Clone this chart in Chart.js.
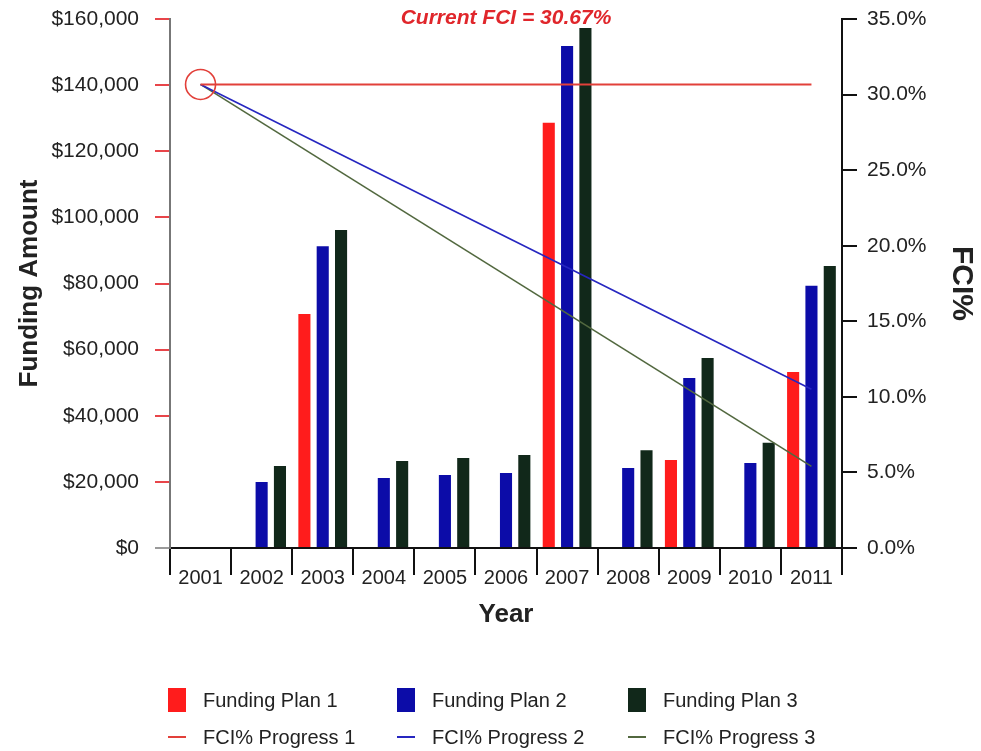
<!DOCTYPE html>
<html>
<head>
<meta charset="utf-8">
<script src="https://cdn.jsdelivr.net/npm/chart.js@4.4.1/dist/chart.umd.min.js"></script>
<style>
  html, body { margin: 0; padding: 0; background: #fff; }
  #wrap { position: relative; width: 981px; height: 751px; }
  #legend { position: absolute; left: 0; top: 0; width: 981px; height: 751px; pointer-events: none;
            font-family: "Liberation Sans", Arial, sans-serif; font-size: 20px; color: #222; }
  .item { position: absolute; display: flex; align-items: center; height: 26px; white-space: nowrap; transform: translateY(-13px); }
  .sw { display: inline-block; width: 18px; height: 24px; margin-right: 17px; }
  .ln { display: inline-block; width: 18px; height: 2px; margin-right: 17px; }
</style>
</head>
<body>
<div id="wrap">
  <canvas id="c" width="981" height="751"></canvas>
  <div id="legend"></div>
</div>
<script>
// Categories
const years = ['2001', '2002', '2003', '2004', '2005', '2006', '2007', '2008', '2009', '2010', '2011'];

// Funding amounts per plan (USD)
const plan1 = [null, null, 70800, null, null, null, 128600, null, 26600, null, 53200];
const plan2 = [null, 20000, 91300, 21200, 22100, 22700, 151800, 24200, 51400, 25700, 79300];
const plan3 = [null, 24800, 96200, 26300, 27200, 28100, 157300, 29600, 57500, 31800, 85300];

// FCI% progress lines (start and end of each plan)
const currentFci = 30.67;
const progress1 = [currentFci, null, null, null, null, null, null, null, null, null, 30.67];
const progress2 = [currentFci, null, null, null, null, null, null, null, null, null, 10.5];
const progress3 = [currentFci, null, null, null, null, null, null, null, null, null, 5.4];

// Axis settings
const fundingMax = 160000, fundingStep = 20000;
const fciMax = 35, fciStep = 5;

const FONT = '"Liberation Sans", Arial, Helvetica, sans-serif';
const TEXT = '#222';

const colors = {
  plan1: '#ff1c1c', plan2: '#0c0ca8', plan3: '#11281a',
  prog1: '#e2403a', prog2: '#2626c0', prog3: '#52683f'
};

// Red "Current FCI" note above the plot
const fciNote = {
  id: 'fciNote',
  afterDraw(chart) {
    const { ctx, chartArea } = chart;
    ctx.save();
    ctx.font = 'italic bold 21px ' + FONT;
    ctx.fillStyle = '#e0262b';
    ctx.textAlign = 'center';
    ctx.textBaseline = 'middle';
    ctx.fillText('Current FCI = ' + currentFci.toFixed(2) + '%', (chartArea.left + chartArea.right) / 2, chartArea.top - 1);
    ctx.restore();
  }
};

// Fixed scale sizes so the plot area sits at a known place
const fixSize = (w, h) => s => {
  if (w != null) s.width = w;
  if (h != null) s.height = h;
  s.paddingTop = 0; s.paddingBottom = 0; s.paddingLeft = 0; s.paddingRight = 0;
};

const bar = (label, data, color) => ({
  type: 'bar', label, data, backgroundColor: color, borderWidth: 0,
  yAxisID: 'y', order: 5, barPercentage: 0.66, categoryPercentage: 0.9
});
const line = (label, data, color, width, order, ring) => ({
  type: 'line', label, data, yAxisID: 'y1', order,
  borderColor: color, borderWidth: width, spanGaps: true, tension: 0,
  pointRadius: ctx => (ring && ctx.dataIndex === 0 ? 15 : 0),
  pointBorderColor: color, pointBackgroundColor: 'rgba(0,0,0,0)', pointBorderWidth: 1.6
});

const chart = new Chart(document.getElementById('c'), {
  data: {
    labels: years,
    datasets: [
      bar('Funding Plan 1', plan1, colors.plan1),
      bar('Funding Plan 2', plan2, colors.plan2),
      bar('Funding Plan 3', plan3, colors.plan3),
      line('FCI% Progress 1', progress1, colors.prog1, 2, 0, true),
      line('FCI% Progress 2', progress2, colors.prog2, 1.6, 1, false),
      line('FCI% Progress 3', progress3, colors.prog3, 1.6, 2, false)
    ]
  },
  options: {
    responsive: false,
    animation: false,
    events: [],
    layout: { padding: { top: 19, left: 0, right: 0, bottom: 118 } },
    plugins: { legend: { display: false }, tooltip: { enabled: false }, title: { display: false } },
    scales: {
      x: {
        offset: true,
        grid: { display: true, drawOnChartArea: false, offset: true, tickLength: 27, color: '#111', lineWidth: 2 },
        border: { display: true, color: '#111', width: 2 },
        ticks: { font: { family: FONT, size: 20 }, color: TEXT, padding: -9, maxRotation: 0 },
        title: { display: true, text: 'Year', color: TEXT, font: { family: FONT, size: 26, weight: 'bold' }, padding: { top: 4, bottom: 3 } },
        afterFit: fixSize(null, 85)
      },
      y: {
        position: 'left', min: 0, max: fundingMax,
        ticks: { stepSize: fundingStep, font: { family: FONT, size: 21 }, color: TEXT, padding: 16,
                 callback: v => '$' + Number(v).toLocaleString('en-US') },
        grid: { drawOnChartArea: false, tickLength: 15, lineWidth: 2,
                color: c => (c.tick && c.tick.value === 0 ? '#9a9a9a' : '#e8454a') },
        border: { display: true, color: '#777', width: 2 },
        title: { display: true, text: 'Funding Amount', color: TEXT, font: { family: FONT, size: 26, weight: 'bold' }, padding: { top: 14, bottom: 4 } },
        afterFit: fixSize(170, null)
      },
      y1: {
        position: 'right', min: 0, max: fciMax,
        ticks: { stepSize: fciStep, font: { family: FONT, size: 21 }, color: TEXT, padding: 10,
                 callback: v => Number(v).toFixed(1) + '%' },
        grid: { drawOnChartArea: false, tickLength: 15, lineWidth: 2, color: '#111' },
        border: { display: true, color: '#111', width: 2 },
        title: { display: true, text: 'FCI%', color: TEXT, font: { family: FONT, size: 30, weight: 'bold' }, padding: { top: 2, bottom: 4 } },
        afterFit: fixSize(139, null)
      }
    }
  },
  plugins: [fciNote]
});

// Legend below the chart: 3 columns, bars on the first row, lines on the second
(function buildLegend() {
  const host = document.getElementById('legend');
  const colX = [168, 397, 628];
  const rowY = [700, 737];
  chart.data.datasets.forEach((ds, i) => {
    const isBar = ds.type === 'bar';
    const item = document.createElement('div');
    item.className = 'item';
    item.style.left = colX[i % 3] + 'px';
    item.style.top = rowY[isBar ? 0 : 1] + 'px';
    const mark = document.createElement('span');
    mark.className = isBar ? 'sw' : 'ln';
    mark.style.background = isBar ? ds.backgroundColor : ds.borderColor;
    const txt = document.createElement('span');
    txt.textContent = ds.label;
    item.appendChild(mark);
    item.appendChild(txt);
    host.appendChild(item);
  });
})();
</script>
</body>
</html>
